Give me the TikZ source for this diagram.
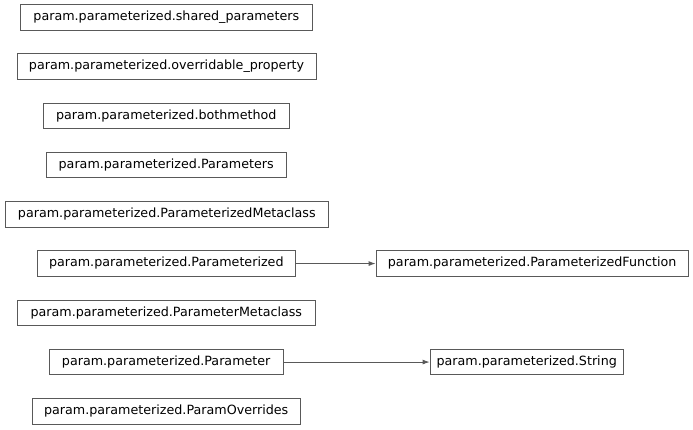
\documentclass[tikz,border=0pt]{standalone}
\usepackage{fontspec}
\setmainfont{DejaVu Sans}
\usetikzlibrary{arrows.meta}
\begin{document}
\begin{tikzpicture}[x=1pt,y=-1pt,
  cls/.style={draw=black!65,line width=0.9pt,fill=white,inner xsep=0pt,inner ysep=0pt,
    minimum height=25.5pt,font=\fontsize{12.7}{15}\selectfont,text height=9.3pt,text depth=2.6pt,text=black},
  inh/.style={draw=black!65,line width=0.9pt,-{Latex[length=7pt,width=5pt]}}]
\useasboundingbox (0,0) rectangle (693,429);
\fill[white] (0,0) rectangle (693,429);
\node[cls,minimum width=291.3pt] (sp) at (166.3,17.3) {param.parameterized.shared\_parameters};
\node[cls,minimum width=298.7pt] (op) at (166.6,66.55) {param.parameterized.overridable\_property};
\node[cls,minimum width=246pt] (bm) at (166.3,115.8) {param.parameterized.bothmethod};
\node[cls,minimum width=240.3pt] (ps) at (166.2,165.05) {param.parameterized.Parameters};
\node[cls,minimum width=323pt] (pzm) at (166.8,214.3) {param.parameterized.ParameterizedMetaclass};
\node[cls,minimum width=258.5pt] (pz) at (166.3,263.55) {param.parameterized.Parameterized};
\node[cls,minimum width=298pt] (pm) at (166.3,312.8) {param.parameterized.ParameterMetaclass};
\node[cls,minimum width=233.7pt] (p) at (166.2,362.05) {param.parameterized.Parameter};
\node[cls,minimum width=267.7pt] (po) at (166.2,411.3) {param.parameterized.ParamOverrides};
\node[cls,minimum width=312.3pt] (pf) at (532.2,263.55) {param.parameterized.ParameterizedFunction};
\node[cls,minimum width=193.3pt] (s) at (526.7,362.05) {param.parameterized.String};
\draw[inh] (pz) -- (pf);
\draw[inh] (p) -- (s);
\end{tikzpicture}
\end{document}
